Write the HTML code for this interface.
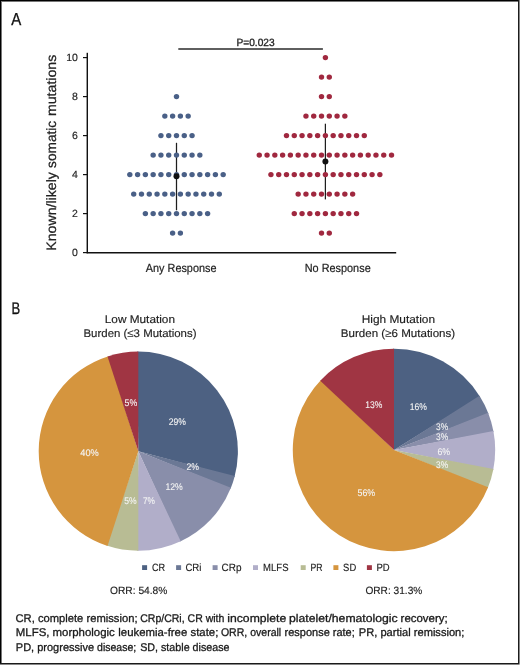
<!DOCTYPE html>
<html><head><meta charset="utf-8"><style>
html,body{margin:0;padding:0;background:#fff;}
body{width:520px;height:665px;overflow:hidden;}
svg{display:block;will-change:transform;}
text{font-family:"Liberation Sans", sans-serif;text-rendering:geometricPrecision;}
</style></head><body>
<svg width="520" height="665" viewBox="0 0 520 665" shape-rendering="auto">
<rect x="0" y="0" width="520" height="665" fill="#fff"/>
<rect x="1" y="1" width="517" height="1" fill="#777"/>
<rect x="1" y="1" width="1" height="662" fill="#777"/>
<rect x="0" y="0" width="519" height="1" fill="#000"/>
<rect x="0" y="0" width="1" height="664" fill="#000"/>
<rect x="518" y="0" width="1" height="664" fill="#1c1c1c"/>
<rect x="0" y="663" width="519" height="1" fill="#1a1a1a"/>
<rect x="519" y="0" width="1" height="665" fill="#888"/>
<rect x="0" y="664" width="520" height="1" fill="#888"/>
<rect x="519" y="664" width="1" height="1" fill="#bbb"/>
<line x1="87.3" y1="52.8" x2="87.3" y2="253.2" stroke="#111" stroke-width="1.45"/>
<line x1="86.6" y1="252.7" x2="396.2" y2="252.7" stroke="#111" stroke-width="1.45"/>
<line x1="83" y1="252.60" x2="87.3" y2="252.60" stroke="#111" stroke-width="1.2"/>
<line x1="83" y1="213.60" x2="87.3" y2="213.60" stroke="#111" stroke-width="1.2"/>
<line x1="83" y1="174.60" x2="87.3" y2="174.60" stroke="#111" stroke-width="1.2"/>
<line x1="83" y1="135.60" x2="87.3" y2="135.60" stroke="#111" stroke-width="1.2"/>
<line x1="83" y1="96.60" x2="87.3" y2="96.60" stroke="#111" stroke-width="1.2"/>
<line x1="83" y1="57.60" x2="87.3" y2="57.60" stroke="#111" stroke-width="1.2"/>
<line x1="178.3" y1="49.0" x2="322.9" y2="49.0" stroke="#2a2a2a" stroke-width="1.6"/>
<line x1="176.5" y1="142.8" x2="176.5" y2="210.3" stroke="#1e1e1e" stroke-width="1.25"/>
<line x1="325.4" y1="123.7" x2="325.4" y2="199.4" stroke="#1e1e1e" stroke-width="1.25"/>
<circle cx="176.50" cy="96.60" r="2.7" fill="#4a6087"/>
<circle cx="164.83" cy="116.10" r="2.7" fill="#4a6087"/>
<circle cx="172.61" cy="116.10" r="2.7" fill="#4a6087"/>
<circle cx="180.39" cy="116.10" r="2.7" fill="#4a6087"/>
<circle cx="188.17" cy="116.10" r="2.7" fill="#4a6087"/>
<circle cx="160.94" cy="135.60" r="2.7" fill="#4a6087"/>
<circle cx="168.72" cy="135.60" r="2.7" fill="#4a6087"/>
<circle cx="176.50" cy="135.60" r="2.7" fill="#4a6087"/>
<circle cx="184.28" cy="135.60" r="2.7" fill="#4a6087"/>
<circle cx="192.06" cy="135.60" r="2.7" fill="#4a6087"/>
<circle cx="153.16" cy="155.10" r="2.7" fill="#4a6087"/>
<circle cx="160.94" cy="155.10" r="2.7" fill="#4a6087"/>
<circle cx="168.72" cy="155.10" r="2.7" fill="#4a6087"/>
<circle cx="176.50" cy="155.10" r="2.7" fill="#4a6087"/>
<circle cx="184.28" cy="155.10" r="2.7" fill="#4a6087"/>
<circle cx="192.06" cy="155.10" r="2.7" fill="#4a6087"/>
<circle cx="199.84" cy="155.10" r="2.7" fill="#4a6087"/>
<circle cx="129.82" cy="174.60" r="2.7" fill="#4a6087"/>
<circle cx="137.60" cy="174.60" r="2.7" fill="#4a6087"/>
<circle cx="145.38" cy="174.60" r="2.7" fill="#4a6087"/>
<circle cx="153.16" cy="174.60" r="2.7" fill="#4a6087"/>
<circle cx="160.94" cy="174.60" r="2.7" fill="#4a6087"/>
<circle cx="168.72" cy="174.60" r="2.7" fill="#4a6087"/>
<circle cx="176.50" cy="174.60" r="2.7" fill="#4a6087"/>
<circle cx="184.28" cy="174.60" r="2.7" fill="#4a6087"/>
<circle cx="192.06" cy="174.60" r="2.7" fill="#4a6087"/>
<circle cx="199.84" cy="174.60" r="2.7" fill="#4a6087"/>
<circle cx="207.62" cy="174.60" r="2.7" fill="#4a6087"/>
<circle cx="215.40" cy="174.60" r="2.7" fill="#4a6087"/>
<circle cx="223.18" cy="174.60" r="2.7" fill="#4a6087"/>
<circle cx="133.71" cy="194.10" r="2.7" fill="#4a6087"/>
<circle cx="141.49" cy="194.10" r="2.7" fill="#4a6087"/>
<circle cx="149.27" cy="194.10" r="2.7" fill="#4a6087"/>
<circle cx="157.05" cy="194.10" r="2.7" fill="#4a6087"/>
<circle cx="164.83" cy="194.10" r="2.7" fill="#4a6087"/>
<circle cx="172.61" cy="194.10" r="2.7" fill="#4a6087"/>
<circle cx="180.39" cy="194.10" r="2.7" fill="#4a6087"/>
<circle cx="188.17" cy="194.10" r="2.7" fill="#4a6087"/>
<circle cx="195.95" cy="194.10" r="2.7" fill="#4a6087"/>
<circle cx="203.73" cy="194.10" r="2.7" fill="#4a6087"/>
<circle cx="211.51" cy="194.10" r="2.7" fill="#4a6087"/>
<circle cx="219.29" cy="194.10" r="2.7" fill="#4a6087"/>
<circle cx="145.38" cy="213.60" r="2.7" fill="#4a6087"/>
<circle cx="153.16" cy="213.60" r="2.7" fill="#4a6087"/>
<circle cx="160.94" cy="213.60" r="2.7" fill="#4a6087"/>
<circle cx="168.72" cy="213.60" r="2.7" fill="#4a6087"/>
<circle cx="176.50" cy="213.60" r="2.7" fill="#4a6087"/>
<circle cx="184.28" cy="213.60" r="2.7" fill="#4a6087"/>
<circle cx="192.06" cy="213.60" r="2.7" fill="#4a6087"/>
<circle cx="199.84" cy="213.60" r="2.7" fill="#4a6087"/>
<circle cx="207.62" cy="213.60" r="2.7" fill="#4a6087"/>
<circle cx="172.61" cy="233.10" r="2.7" fill="#4a6087"/>
<circle cx="180.39" cy="233.10" r="2.7" fill="#4a6087"/>
<circle cx="325.40" cy="57.60" r="2.7" fill="#a0283f"/>
<circle cx="321.51" cy="77.10" r="2.7" fill="#a0283f"/>
<circle cx="329.29" cy="77.10" r="2.7" fill="#a0283f"/>
<circle cx="321.51" cy="96.60" r="2.7" fill="#a0283f"/>
<circle cx="329.29" cy="96.60" r="2.7" fill="#a0283f"/>
<circle cx="305.95" cy="116.10" r="2.7" fill="#a0283f"/>
<circle cx="313.73" cy="116.10" r="2.7" fill="#a0283f"/>
<circle cx="321.51" cy="116.10" r="2.7" fill="#a0283f"/>
<circle cx="329.29" cy="116.10" r="2.7" fill="#a0283f"/>
<circle cx="337.07" cy="116.10" r="2.7" fill="#a0283f"/>
<circle cx="344.85" cy="116.10" r="2.7" fill="#a0283f"/>
<circle cx="286.50" cy="135.60" r="2.7" fill="#a0283f"/>
<circle cx="294.28" cy="135.60" r="2.7" fill="#a0283f"/>
<circle cx="302.06" cy="135.60" r="2.7" fill="#a0283f"/>
<circle cx="309.84" cy="135.60" r="2.7" fill="#a0283f"/>
<circle cx="317.62" cy="135.60" r="2.7" fill="#a0283f"/>
<circle cx="325.40" cy="135.60" r="2.7" fill="#a0283f"/>
<circle cx="333.18" cy="135.60" r="2.7" fill="#a0283f"/>
<circle cx="340.96" cy="135.60" r="2.7" fill="#a0283f"/>
<circle cx="348.74" cy="135.60" r="2.7" fill="#a0283f"/>
<circle cx="356.52" cy="135.60" r="2.7" fill="#a0283f"/>
<circle cx="364.30" cy="135.60" r="2.7" fill="#a0283f"/>
<circle cx="259.27" cy="155.10" r="2.7" fill="#a0283f"/>
<circle cx="267.05" cy="155.10" r="2.7" fill="#a0283f"/>
<circle cx="274.83" cy="155.10" r="2.7" fill="#a0283f"/>
<circle cx="282.61" cy="155.10" r="2.7" fill="#a0283f"/>
<circle cx="290.39" cy="155.10" r="2.7" fill="#a0283f"/>
<circle cx="298.17" cy="155.10" r="2.7" fill="#a0283f"/>
<circle cx="305.95" cy="155.10" r="2.7" fill="#a0283f"/>
<circle cx="313.73" cy="155.10" r="2.7" fill="#a0283f"/>
<circle cx="321.51" cy="155.10" r="2.7" fill="#a0283f"/>
<circle cx="329.29" cy="155.10" r="2.7" fill="#a0283f"/>
<circle cx="337.07" cy="155.10" r="2.7" fill="#a0283f"/>
<circle cx="344.85" cy="155.10" r="2.7" fill="#a0283f"/>
<circle cx="352.63" cy="155.10" r="2.7" fill="#a0283f"/>
<circle cx="360.41" cy="155.10" r="2.7" fill="#a0283f"/>
<circle cx="368.19" cy="155.10" r="2.7" fill="#a0283f"/>
<circle cx="375.97" cy="155.10" r="2.7" fill="#a0283f"/>
<circle cx="383.75" cy="155.10" r="2.7" fill="#a0283f"/>
<circle cx="391.53" cy="155.10" r="2.7" fill="#a0283f"/>
<circle cx="270.94" cy="174.60" r="2.7" fill="#a0283f"/>
<circle cx="278.72" cy="174.60" r="2.7" fill="#a0283f"/>
<circle cx="286.50" cy="174.60" r="2.7" fill="#a0283f"/>
<circle cx="294.28" cy="174.60" r="2.7" fill="#a0283f"/>
<circle cx="302.06" cy="174.60" r="2.7" fill="#a0283f"/>
<circle cx="309.84" cy="174.60" r="2.7" fill="#a0283f"/>
<circle cx="317.62" cy="174.60" r="2.7" fill="#a0283f"/>
<circle cx="325.40" cy="174.60" r="2.7" fill="#a0283f"/>
<circle cx="333.18" cy="174.60" r="2.7" fill="#a0283f"/>
<circle cx="340.96" cy="174.60" r="2.7" fill="#a0283f"/>
<circle cx="348.74" cy="174.60" r="2.7" fill="#a0283f"/>
<circle cx="356.52" cy="174.60" r="2.7" fill="#a0283f"/>
<circle cx="364.30" cy="174.60" r="2.7" fill="#a0283f"/>
<circle cx="372.08" cy="174.60" r="2.7" fill="#a0283f"/>
<circle cx="379.86" cy="174.60" r="2.7" fill="#a0283f"/>
<circle cx="298.17" cy="194.10" r="2.7" fill="#a0283f"/>
<circle cx="305.95" cy="194.10" r="2.7" fill="#a0283f"/>
<circle cx="313.73" cy="194.10" r="2.7" fill="#a0283f"/>
<circle cx="321.51" cy="194.10" r="2.7" fill="#a0283f"/>
<circle cx="329.29" cy="194.10" r="2.7" fill="#a0283f"/>
<circle cx="337.07" cy="194.10" r="2.7" fill="#a0283f"/>
<circle cx="344.85" cy="194.10" r="2.7" fill="#a0283f"/>
<circle cx="352.63" cy="194.10" r="2.7" fill="#a0283f"/>
<circle cx="294.28" cy="213.60" r="2.7" fill="#a0283f"/>
<circle cx="302.06" cy="213.60" r="2.7" fill="#a0283f"/>
<circle cx="309.84" cy="213.60" r="2.7" fill="#a0283f"/>
<circle cx="317.62" cy="213.60" r="2.7" fill="#a0283f"/>
<circle cx="325.40" cy="213.60" r="2.7" fill="#a0283f"/>
<circle cx="333.18" cy="213.60" r="2.7" fill="#a0283f"/>
<circle cx="340.96" cy="213.60" r="2.7" fill="#a0283f"/>
<circle cx="348.74" cy="213.60" r="2.7" fill="#a0283f"/>
<circle cx="356.52" cy="213.60" r="2.7" fill="#a0283f"/>
<circle cx="321.51" cy="233.10" r="2.7" fill="#a0283f"/>
<circle cx="329.29" cy="233.10" r="2.7" fill="#a0283f"/>
<circle cx="176.5" cy="176.2" r="3" fill="#111"/>
<circle cx="325.4" cy="161.5" r="3" fill="#111"/>
<path d="M138.30,451.20 L137.26,351.61 A99.6,99.6 0 0 1 234.51,476.98 Z" fill="#4d6182"/>
<path d="M138.30,451.20 L234.77,475.97 A99.6,99.6 0 0 1 230.52,488.83 Z" fill="#6b7895"/>
<path d="M138.30,451.20 L230.91,487.87 A99.6,99.6 0 0 1 179.76,541.76 Z" fill="#898eaa"/>
<path d="M138.30,451.20 L180.71,541.32 A99.6,99.6 0 0 1 137.26,550.79 Z" fill="#b1aec9"/>
<path d="M138.30,451.20 L138.30,550.80 A99.6,99.6 0 0 1 106.53,545.60 Z" fill="#b8bc94"/>
<path d="M138.30,451.20 L107.52,545.93 A99.6,99.6 0 0 1 108.52,356.16 Z" fill="#d5953e"/>
<path d="M138.30,451.20 L107.52,356.47 A99.6,99.6 0 0 1 138.30,351.60 Z" fill="#a03543"/>
<path d="M394.00,450.00 L392.94,348.81 A101.2,101.2 0 0 1 480.01,396.67 Z" fill="#4d6182"/>
<path d="M394.00,450.00 L479.45,395.77 A101.2,101.2 0 0 1 488.48,413.73 Z" fill="#6b7895"/>
<path d="M394.00,450.00 L488.09,412.75 A101.2,101.2 0 0 1 493.60,432.08 Z" fill="#898eaa"/>
<path d="M394.00,450.00 L493.41,431.04 A101.2,101.2 0 0 1 493.20,470.00 Z" fill="#b1aec9"/>
<path d="M394.00,450.00 L493.41,468.96 A101.2,101.2 0 0 1 487.70,488.24 Z" fill="#b8bc94"/>
<path d="M394.00,450.00 L488.09,487.25 A101.2,101.2 0 1 1 320.96,379.96 Z" fill="#d5953e"/>
<path d="M394.00,450.00 L320.23,380.72 A101.2,101.2 0 0 1 394.00,348.80 Z" fill="#a03543"/>
<rect x="142.1" y="565.2" width="5" height="4.8" fill="#4d6182"/>
<rect x="176.1" y="565.2" width="5" height="4.8" fill="#6b7895"/>
<rect x="212.6" y="565.2" width="5" height="4.8" fill="#898eaa"/>
<rect x="253.0" y="565.2" width="5" height="4.8" fill="#b1aec9"/>
<rect x="300.7" y="565.2" width="5" height="4.8" fill="#b8bc94"/>
<rect x="333.4" y="565.2" width="5" height="4.8" fill="#d5953e"/>
<rect x="366.9" y="565.2" width="5" height="4.8" fill="#a03543"/>
<text id="A" x="11.20" y="25.00" font-size="17.3" fill="#111" stroke="#111" stroke-width="0.3" textLength="10.00" lengthAdjust="spacingAndGlyphs">A</text>
<text id="P" x="236.50" y="45.60" font-size="10.5" fill="#222" stroke="#222" stroke-width="0.3" textLength="38.10" lengthAdjust="spacingAndGlyphs">P=0.023</text>
<text id="any" x="145.80" y="271.90" font-size="11.8" fill="#222" stroke="#222" stroke-width="0.2" textLength="70.70" lengthAdjust="spacingAndGlyphs">Any Response</text>
<text id="no" x="304.70" y="271.90" font-size="11.8" fill="#222" stroke="#222" stroke-width="0.2" textLength="66.00" lengthAdjust="spacingAndGlyphs">No Response</text>
<text id="B" x="11.50" y="313.80" font-size="16.8" fill="#111" stroke="#111" stroke-width="0.3" textLength="8.70" lengthAdjust="spacingAndGlyphs">B</text>
<text id="low1" x="104.80" y="322.60" font-size="11.2" fill="#1e1e1e" stroke="#1e1e1e" stroke-width="0.15" textLength="70.20" lengthAdjust="spacingAndGlyphs">Low Mutation</text>
<text id="low2" x="83.50" y="337.10" font-size="11.2" fill="#1e1e1e" stroke="#1e1e1e" stroke-width="0.15" textLength="113.00" lengthAdjust="spacingAndGlyphs">Burden (≤3 Mutations)</text>
<text id="high1" x="361.80" y="322.60" font-size="11.2" fill="#1e1e1e" stroke="#1e1e1e" stroke-width="0.15" textLength="73.20" lengthAdjust="spacingAndGlyphs">High Mutation</text>
<text id="high2" x="340.80" y="337.10" font-size="11.2" fill="#1e1e1e" stroke="#1e1e1e" stroke-width="0.15" textLength="114.40" lengthAdjust="spacingAndGlyphs">Burden (≥6 Mutations)</text>
<text id="l29" x="168.80" y="425.40" font-size="9.6" fill="#f4f4f4" stroke="#f4f4f4" stroke-width="0.1" textLength="17.20" lengthAdjust="spacingAndGlyphs">29%</text>
<text id="l2" x="186.50" y="470.20" font-size="9.6" fill="#f4f4f4" stroke="#f4f4f4" stroke-width="0.1" textLength="12.50" lengthAdjust="spacingAndGlyphs">2%</text>
<text id="l12" x="165.50" y="489.80" font-size="9.6" fill="#f4f4f4" stroke="#f4f4f4" stroke-width="0.1" textLength="17.30" lengthAdjust="spacingAndGlyphs">12%</text>
<text id="l7" x="143.00" y="504.40" font-size="9.6" fill="#f4f4f4" stroke="#f4f4f4" stroke-width="0.1" textLength="12.00" lengthAdjust="spacingAndGlyphs">7%</text>
<text id="l5a" x="124.20" y="504.40" font-size="9.6" fill="#f4f4f4" stroke="#f4f4f4" stroke-width="0.1" textLength="12.40" lengthAdjust="spacingAndGlyphs">5%</text>
<text id="l40" x="80.30" y="455.50" font-size="9.6" fill="#f4f4f4" stroke="#f4f4f4" stroke-width="0.1" textLength="18.50" lengthAdjust="spacingAndGlyphs">40%</text>
<text id="l5b" x="124.60" y="405.70" font-size="9.6" fill="#f4f4f4" stroke="#f4f4f4" stroke-width="0.1" textLength="12.70" lengthAdjust="spacingAndGlyphs">5%</text>
<text id="r16" x="409.70" y="410.10" font-size="9.6" fill="#f4f4f4" stroke="#f4f4f4" stroke-width="0.1" textLength="17.20" lengthAdjust="spacingAndGlyphs">16%</text>
<text id="r3a" x="436.10" y="430.20" font-size="9.6" fill="#f4f4f4" stroke="#f4f4f4" stroke-width="0.1" textLength="12.10" lengthAdjust="spacingAndGlyphs">3%</text>
<text id="r3b" x="436.10" y="440.40" font-size="9.6" fill="#f4f4f4" stroke="#f4f4f4" stroke-width="0.1" textLength="12.10" lengthAdjust="spacingAndGlyphs">3%</text>
<text id="r6" x="437.40" y="454.50" font-size="9.6" fill="#f4f4f4" stroke="#f4f4f4" stroke-width="0.1" textLength="12.70" lengthAdjust="spacingAndGlyphs">6%</text>
<text id="r3c" x="436.10" y="468.30" font-size="9.6" fill="#f4f4f4" stroke="#f4f4f4" stroke-width="0.1" textLength="12.10" lengthAdjust="spacingAndGlyphs">3%</text>
<text id="r56" x="357.50" y="496.20" font-size="9.6" fill="#f4f4f4" stroke="#f4f4f4" stroke-width="0.1" textLength="17.70" lengthAdjust="spacingAndGlyphs">56%</text>
<text id="r13" x="365.20" y="408.10" font-size="9.6" fill="#f4f4f4" stroke="#f4f4f4" stroke-width="0.1" textLength="17.10" lengthAdjust="spacingAndGlyphs">13%</text>
<text id="gCR" x="151.90" y="571.00" font-size="10.5" fill="#222" stroke="#222" stroke-width="0.15" textLength="13.20" lengthAdjust="spacingAndGlyphs">CR</text>
<text id="gCRi" x="185.40" y="571.00" font-size="10.5" fill="#222" stroke="#222" stroke-width="0.15" textLength="16.10" lengthAdjust="spacingAndGlyphs">CRi</text>
<text id="gCRp" x="221.60" y="571.00" font-size="10.5" fill="#222" stroke="#222" stroke-width="0.15" textLength="19.90" lengthAdjust="spacingAndGlyphs">CRp</text>
<text id="gMLFS" x="263.10" y="571.00" font-size="10.5" fill="#222" stroke="#222" stroke-width="0.15" textLength="25.40" lengthAdjust="spacingAndGlyphs">MLFS</text>
<text id="gPR" x="310.40" y="571.00" font-size="10.5" fill="#222" stroke="#222" stroke-width="0.15" textLength="12.00" lengthAdjust="spacingAndGlyphs">PR</text>
<text id="gSD" x="343.10" y="571.00" font-size="10.5" fill="#222" stroke="#222" stroke-width="0.15" textLength="13.10" lengthAdjust="spacingAndGlyphs">SD</text>
<text id="gPD" x="376.50" y="571.00" font-size="10.5" fill="#222" stroke="#222" stroke-width="0.15" textLength="13.20" lengthAdjust="spacingAndGlyphs">PD</text>
<text id="orr1" x="110.00" y="593.90" font-size="10.5" fill="#222" stroke="#222" stroke-width="0.15" textLength="57.40" lengthAdjust="spacingAndGlyphs">ORR: 54.8%</text>
<text id="orr2" x="365.40" y="593.80" font-size="10.5" fill="#222" stroke="#222" stroke-width="0.15" textLength="56.90" lengthAdjust="spacingAndGlyphs">ORR: 31.3%</text>
<text id="f1a" x="15.50" y="621.50" font-size="11.2" fill="#1a1a1a" stroke="#1a1a1a" stroke-width="0.3" textLength="122.00" lengthAdjust="spacingAndGlyphs">CR, complete remission;</text>
<text id="f1b" x="140.20" y="621.50" font-size="11.2" fill="#1a1a1a" stroke="#1a1a1a" stroke-width="0.3" textLength="84.20" lengthAdjust="spacingAndGlyphs">CRp/CRi, CR with</text>
<text id="f1c" x="227.30" y="621.50" font-size="11.2" fill="#1a1a1a" stroke="#1a1a1a" stroke-width="0.3" textLength="58.90" lengthAdjust="spacingAndGlyphs">incomplete</text>
<text id="f1d" x="289.00" y="621.50" font-size="11.2" fill="#1a1a1a" stroke="#1a1a1a" stroke-width="0.3" textLength="108.70" lengthAdjust="spacingAndGlyphs">platelet/hematologic</text>
<text id="f1e" x="400.60" y="621.50" font-size="11.2" fill="#1a1a1a" stroke="#1a1a1a" stroke-width="0.3" textLength="47.10" lengthAdjust="spacingAndGlyphs">recovery;</text>
<text id="f2a" x="15.80" y="636.10" font-size="11.2" fill="#1a1a1a" stroke="#1a1a1a" stroke-width="0.3" textLength="99.00" lengthAdjust="spacingAndGlyphs">MLFS, morphologic</text>
<text id="f2b" x="118.30" y="636.10" font-size="11.2" fill="#1a1a1a" stroke="#1a1a1a" stroke-width="0.3" textLength="100.00" lengthAdjust="spacingAndGlyphs">leukemia-free state;</text>
<text id="f2c" x="220.90" y="636.10" font-size="11.2" fill="#1a1a1a" stroke="#1a1a1a" stroke-width="0.3" textLength="60.30" lengthAdjust="spacingAndGlyphs">ORR, overall</text>
<text id="f2d" x="284.60" y="636.10" font-size="11.2" fill="#1a1a1a" stroke="#1a1a1a" stroke-width="0.3" textLength="70.20" lengthAdjust="spacingAndGlyphs">response rate;</text>
<text id="f2e" x="358.80" y="636.10" font-size="11.2" fill="#1a1a1a" stroke="#1a1a1a" stroke-width="0.3" textLength="105.60" lengthAdjust="spacingAndGlyphs">PR, partial remission;</text>
<text id="f3a" x="15.80" y="650.50" font-size="11.2" fill="#1a1a1a" stroke="#1a1a1a" stroke-width="0.3" textLength="78.30" lengthAdjust="spacingAndGlyphs">PD, progressive</text>
<text id="f3b" x="97.10" y="650.50" font-size="11.2" fill="#1a1a1a" stroke="#1a1a1a" stroke-width="0.3" textLength="39.10" lengthAdjust="spacingAndGlyphs">disease;</text>
<text id="f3c" x="140.20" y="650.50" font-size="11.2" fill="#1a1a1a" stroke="#1a1a1a" stroke-width="0.3" textLength="89.30" lengthAdjust="spacingAndGlyphs">SD, stable disease</text>
<text id="t0" x="77.90" y="256.10" font-size="10.5" fill="#222" stroke="#222" stroke-width="0.15" text-anchor="end">0</text>
<text id="t2" x="77.90" y="217.10" font-size="10.5" fill="#222" stroke="#222" stroke-width="0.15" text-anchor="end">2</text>
<text id="t4" x="77.90" y="178.10" font-size="10.5" fill="#222" stroke="#222" stroke-width="0.15" text-anchor="end">4</text>
<text id="t6" x="77.90" y="139.10" font-size="10.5" fill="#222" stroke="#222" stroke-width="0.15" text-anchor="end">6</text>
<text id="t8" x="77.90" y="100.10" font-size="10.5" fill="#222" stroke="#222" stroke-width="0.15" text-anchor="end">8</text>
<text id="t10" x="77.90" y="61.10" font-size="10.5" fill="#222" stroke="#222" stroke-width="0.15" text-anchor="end">10</text>
<text id="yl1" transform="translate(56.3,250.70) rotate(-90)" x="0" y="0" font-size="13.6" fill="#222" stroke="#222" stroke-width="0.25" textLength="78.60" lengthAdjust="spacingAndGlyphs">Known/likely</text>
<text id="yl2" transform="translate(56.3,167.90) rotate(-90)" x="0" y="0" font-size="13.6" fill="#222" stroke="#222" stroke-width="0.25" textLength="47.10" lengthAdjust="spacingAndGlyphs">somatic</text>
<text id="yl3" transform="translate(56.3,116.10) rotate(-90)" x="0" y="0" font-size="13.6" fill="#222" stroke="#222" stroke-width="0.25" textLength="61.40" lengthAdjust="spacingAndGlyphs">mutations</text>
</svg>
</body></html>
